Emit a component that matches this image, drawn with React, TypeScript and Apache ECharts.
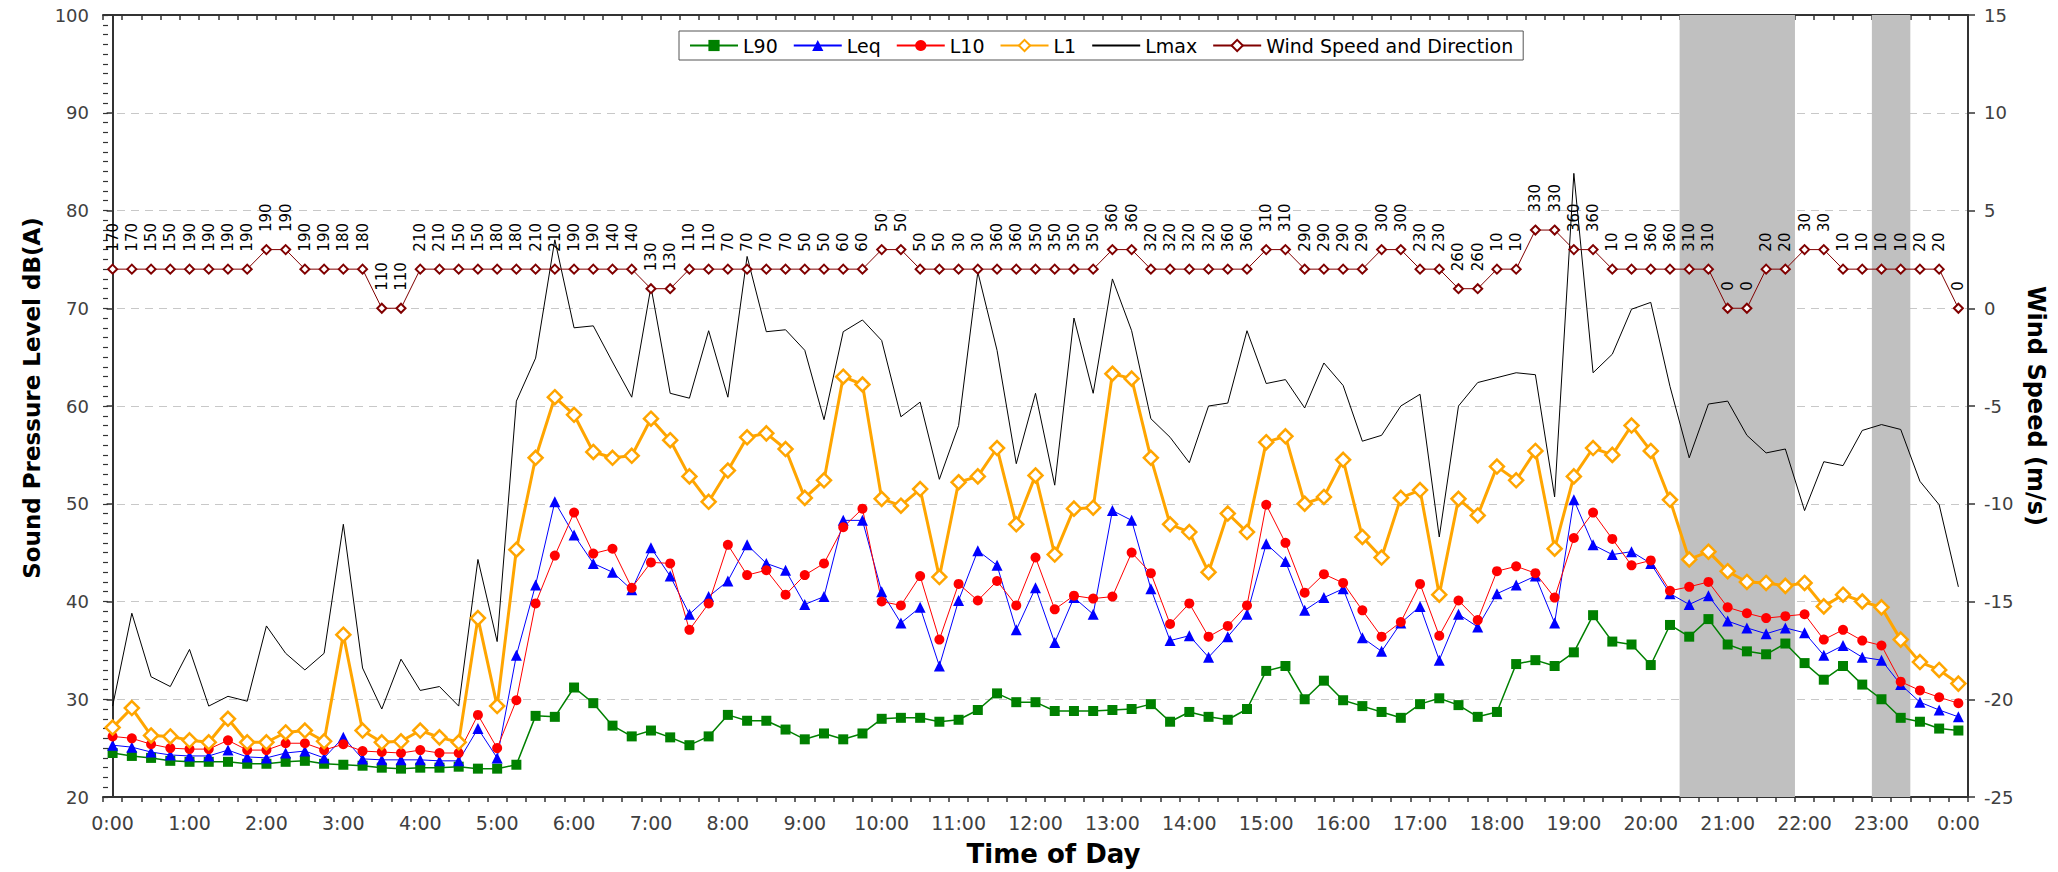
import React, { useEffect, useRef } from 'react';
import * as echarts from 'echarts';

// 15-minute categories from 0:00 to 24:00 (97 points)
const timeLabels: string[] = Array.from({ length: 97 }, (_, i) => `${Math.floor(i / 4)}:${String((i % 4) * 15).padStart(2, '0')}`);

const l90 = [
  24.5, 24.2, 24.0, 23.7, 23.6, 23.6, 23.6, 23.4, 23.4, 23.6, 23.7, 23.4, 23.3, 23.2, 23.0, 22.9,
  23.0, 23.0, 23.1, 22.9, 22.9, 23.3, 28.3, 28.2, 31.2, 29.6, 27.3, 26.2, 26.8, 26.1, 25.3, 26.2,
  28.4, 27.8, 27.8, 26.9, 25.9, 26.5, 25.9, 26.5, 28.0, 28.1, 28.1, 27.7, 27.9, 28.9, 30.6, 29.7,
  29.7, 28.8, 28.8, 28.8, 28.9, 29.0, 29.5, 27.7, 28.7, 28.2, 27.9, 29.0, 32.9, 33.4, 30.0, 31.9,
  29.9, 29.3, 28.7, 28.1, 29.5, 30.1, 29.4, 28.2, 28.7, 33.6, 34.0, 33.4, 34.8, 38.6, 35.9, 35.6,
  33.5, 37.6, 36.4, 38.2, 35.6, 34.9, 34.6, 35.7, 33.7, 32.0, 33.4, 31.5, 30.0, 28.1, 27.7, 27.0, 26.8,
];

const leq = [
  25.3, 25.1, 24.6, 24.3, 24.2, 24.2, 24.8, 24.1, 24.0, 24.5, 24.7, 24.0, 26.1, 23.9, 23.8, 23.8,
  23.8, 23.7, 23.7, 27.0, 24.0, 34.5, 41.7, 50.2, 46.8, 43.9, 43.0, 41.2, 45.5, 42.6, 38.7, 40.5,
  42.1, 45.8, 43.9, 43.2, 39.7, 40.5, 48.3, 48.3, 41.0, 37.8, 39.4, 33.4, 40.1, 45.2, 43.7, 37.1,
  41.4, 35.8, 40.4, 38.7, 49.3, 48.3, 41.3, 36.0, 36.5, 34.3, 36.4, 38.7, 45.9, 44.1, 39.1, 40.4,
  41.3, 36.3, 34.9, 37.8, 39.5, 34.0, 38.7, 37.4, 40.8, 41.7, 42.6, 37.8, 50.4, 45.8, 44.8, 45.1,
  43.9, 40.8, 39.7, 40.6, 38.0, 37.3, 36.7, 37.3, 36.8, 34.5, 35.5, 34.3, 34.0, 31.5, 29.7, 28.9, 28.2,
];

const l10 = [
  26.2, 26.0, 25.4, 25.0, 24.9, 24.9, 25.8, 24.8, 24.8, 25.5, 25.5, 24.8, 25.4, 24.7, 24.6, 24.5,
  24.8, 24.5, 24.5, 28.4, 25.0, 29.9, 39.8, 44.7, 49.1, 44.9, 45.4, 41.4, 44.0, 43.9, 37.1, 39.8,
  45.8, 42.7, 43.2, 40.7, 42.7, 43.9, 47.6, 49.5, 40.0, 39.6, 42.6, 36.1, 41.8, 40.1, 42.1, 39.6,
  44.5, 39.2, 40.6, 40.3, 40.5, 45.0, 42.9, 37.7, 39.8, 36.4, 37.5, 39.6, 49.9, 46.0, 40.9, 42.8,
  41.9, 39.1, 36.4, 37.9, 41.8, 36.5, 40.1, 38.1, 43.1, 43.6, 42.9, 40.4, 46.5, 49.1, 46.4, 43.7,
  44.2, 41.1, 41.5, 42.0, 39.4, 38.8, 38.3, 38.5, 38.7, 36.1, 37.1, 36.0, 35.5, 31.8, 30.9, 30.2, 29.6,
];

const l1 = [
  27.1, 29.1, 26.3, 26.2, 25.8, 25.6, 28.0, 25.6, 25.6, 26.6, 26.8, 25.7, 36.6, 26.8, 25.6, 25.7,
  26.8, 26.1, 25.6, 38.3, 29.3, 45.3, 54.7, 60.9, 59.1, 55.3, 54.7, 54.9, 58.7, 56.5, 52.8, 50.2,
  53.4, 56.8, 57.2, 55.6, 50.6, 52.4, 63.0, 62.2, 50.5, 49.8, 51.5, 42.5, 52.2, 52.8, 55.7, 47.9,
  52.9, 44.8, 49.5, 49.6, 63.3, 62.8, 54.7, 47.9, 47.1, 43.0, 49.0, 47.1, 56.3, 56.9, 50.0, 50.7,
  54.5, 46.6, 44.5, 50.6, 51.4, 40.7, 50.5, 48.8, 53.8, 52.4, 55.4, 45.4, 52.8, 55.7, 55.0, 58.0,
  55.4, 50.4, 44.3, 45.1, 43.1, 42.0, 41.9, 41.6, 41.9, 39.5, 40.7, 40.0, 39.4, 36.1, 33.8, 33.0, 31.6,
];

const lmax = [
  29.3, 38.8, 32.3, 31.3, 35.1, 29.3, 30.3, 29.8, 37.5, 34.7, 33.0, 34.7, 47.9, 33.2, 29.0, 34.1,
  30.9, 31.3, 29.3, 44.3, 35.9, 60.5, 64.9, 77.0, 68.0, 68.2, 64.5, 60.9, 72.2, 61.3, 60.8, 67.7,
  60.9, 75.3, 67.6, 67.8, 65.7, 58.6, 67.6, 68.8, 66.7, 58.9, 60.4, 52.5, 58.0, 73.7, 65.7, 54.1,
  61.3, 51.9, 69.0, 61.3, 73.0, 67.7, 58.7, 56.8, 54.2, 60.0, 60.3, 67.7, 62.3, 62.7, 59.8, 64.4,
  62.1, 56.4, 57.0, 60.0, 61.2, 46.6, 60.0, 62.4, 62.9, 63.4, 63.2, 50.7, 83.8, 63.4, 65.3, 69.9,
  70.6, 62.0, 54.7, 60.2, 60.5, 57.0, 55.2, 55.6, 49.3, 54.3, 53.9, 57.5, 58.1, 57.6, 52.3, 49.9, 41.5,
];

const windSpeed = [
  2, 2, 2, 2, 2, 2, 2, 2, 3, 3, 2, 2, 2, 2, 0, 0,
  2, 2, 2, 2, 2, 2, 2, 2, 2, 2, 2, 2, 1, 1, 2, 2,
  2, 2, 2, 2, 2, 2, 2, 2, 3, 3, 2, 2, 2, 2, 2, 2,
  2, 2, 2, 2, 3, 3, 2, 2, 2, 2, 2, 2, 3, 3, 2, 2,
  2, 2, 3, 3, 2, 2, 1, 1, 2, 2, 4, 4, 3, 3, 2, 2,
  2, 2, 2, 2, 0, 0, 2, 2, 3, 3, 2, 2, 2, 2, 2, 2, 0,
];

const windDir = [
  170, 170, 150, 150, 190, 190, 190, 190, 190, 190, 190, 190, 180, 180, 110, 110,
  210, 210, 150, 150, 180, 180, 210, 210, 190, 190, 140, 140, 130, 130, 110, 110,
  70, 70, 70, 70, 50, 50, 60, 60, 50, 50, 50, 50, 30, 30, 360, 360,
  350, 350, 350, 350, 360, 360, 320, 320, 320, 320, 360, 360, 310, 310, 290, 290,
  290, 290, 300, 300, 230, 230, 260, 260, 10, 10, 330, 330, 360, 360, 10, 10,
  360, 360, 310, 310, 0, 0, 20, 20, 30, 30, 10, 10, 10, 10, 20, 20, 0,
];

// shaded periods (first and last 15-minute category included)
const shadedPeriods: [string, string][] = [
  ['20:30', '21:45'],
  ['23:00', '23:15'],
];

const legendNames = ['L90', 'Leq', 'L10', 'L1', 'Lmax', 'Wind Speed and Direction'];

export default function App() {
  const ref = useRef<HTMLDivElement>(null);

  useEffect(() => {
    if (!ref.current) return;
    const chart = echarts.init(ref.current, null, { renderer: 'svg' });
    const font = 'DejaVu Sans';
    const axisLabelStyle = { fontFamily: font, fontSize: 18, color: '#404040' };
    const nameStyle = { fontFamily: font, fontSize: 24, fontWeight: 'bold' as const, color: '#000' };
    const axisLineStyle = { color: '#333', width: 2 };
    const areas = shadedPeriods.map(([a, b]) => [
      { xAxis: timeLabels.indexOf(a) - 0.5 },
      { xAxis: timeLabels.indexOf(b) + 0.5 },
    ]);

    const option: any = {
      animation: false,
      backgroundColor: '#fff',
      textStyle: { fontFamily: font },
      grid: { left: 103, right: 90, top: 15, bottom: 75, containLabel: false },
      legend: {
        data: legendNames.map((n) =>
          n === 'Lmax' ? { name: n, itemStyle: { opacity: 0 } } : { name: n }
        ),
        left: 679,
        top: 31,
        orient: 'horizontal',
        backgroundColor: '#fff',
        borderColor: '#555',
        borderWidth: 1,
        borderRadius: 0,
        padding: [5, 10],
        itemGap: 15,
        itemWidth: 48,
        itemHeight: 14,
        textStyle: { fontFamily: font, fontSize: 19, color: '#000' },
      },
      xAxis: [
        {
          type: 'category',
          data: timeLabels,
          boundaryGap: true,
          position: 'bottom',
          name: 'Time of Day',
          nameLocation: 'middle',
          nameGap: 44,
          nameTextStyle: { ...nameStyle, fontSize: 26, padding: [0, 0, 0, 36] },
          axisLine: { show: true, onZero: false, lineStyle: axisLineStyle },
          axisTick: { show: true, interval: 0, length: 5, lineStyle: { color: '#333', width: 1.5 } },
          axisLabel: {
            interval: 3,
            margin: 16,
            ...axisLabelStyle,
            fontSize: 19,
            formatter: (v: string) => (v === '24:00' ? '0:00' : v),
          },
          splitLine: { show: false },
        },
        {
          type: 'category',
          data: timeLabels,
          boundaryGap: true,
          position: 'top',
          axisLine: { show: true, onZero: false, lineStyle: axisLineStyle },
          axisTick: { show: true, inside: true, interval: 0, length: 5, lineStyle: { color: '#333', width: 1.5 } },
          axisLabel: { show: false },
          splitLine: { show: false },
        },
        { type: 'value', min: -0.5, max: 96.5, show: false, splitLine: { show: false } },
      ],
      yAxis: [
        {
          type: 'value',
          position: 'left',
          min: 20,
          max: 100,
          interval: 10,
          name: 'Sound Pressure Level dB(A)',
          nameLocation: 'middle',
          nameGap: 58,
          nameTextStyle: { ...nameStyle, fontSize: 23, padding: [0, 0, 0, 16] },
          axisLine: { show: true, lineStyle: axisLineStyle },
          axisTick: { show: true, length: 6, lineStyle: { color: '#333', width: 1.5 } },
          axisLabel: { margin: 14, ...axisLabelStyle },
          splitLine: { show: true, lineStyle: { type: [8, 6], color: '#c8c8c8', width: 1 } },
        },
        {
          type: 'value',
          position: 'right',
          min: -25,
          max: 15,
          interval: 5,
          name: 'Wind Speed (m/s)',
          nameLocation: 'middle',
          nameRotate: -90,
          nameGap: 50,
          nameTextStyle: nameStyle,
          axisLine: { show: true, lineStyle: axisLineStyle },
          axisTick: { show: true, length: 7, lineStyle: { color: '#333', width: 1.5 } },
          axisLabel: { margin: 16, ...axisLabelStyle },
          splitLine: { show: false },
        },
        {
          type: 'value',
          position: 'left',
          min: 20,
          max: 100,
          interval: 1,
          axisLine: { show: false },
          axisTick: { show: true, inside: true, length: 5, lineStyle: { color: '#333', width: 1.2 } },
          axisLabel: { show: false },
          splitLine: { show: false },
        },
      ],
      series: [
        {
          name: 'shade',
          type: 'line',
          xAxisIndex: 2,
          yAxisIndex: 0,
          data: [],
          silent: true,
          z: 1,
          markArea: { silent: true, itemStyle: { color: '#c0c0c0' }, data: areas },
        },
        {
          name: 'Lmax',
          type: 'line',
          data: lmax,
          symbol: 'none',
          lineStyle: { color: '#000', width: 1 },
          itemStyle: { color: '#000' },
          z: 3,
        },
        {
          name: 'L90',
          type: 'line',
          data: l90,
          symbol: 'rect',
          symbolSize: 10,
          showAllSymbol: true,
          lineStyle: { color: '#008000', width: 1.5 },
          itemStyle: { color: '#008000' },
          z: 4,
        },
        {
          name: 'Leq',
          type: 'line',
          data: leq,
          symbol: 'triangle',
          symbolSize: 11,
          showAllSymbol: true,
          lineStyle: { color: '#0000ff', width: 1 },
          itemStyle: { color: '#0000ff' },
          z: 4,
        },
        {
          name: 'L10',
          type: 'line',
          data: l10,
          symbol: 'circle',
          symbolSize: 10,
          showAllSymbol: true,
          lineStyle: { color: '#ff0000', width: 1 },
          itemStyle: { color: '#ff0000' },
          z: 4,
        },
        {
          name: 'L1',
          type: 'line',
          data: l1,
          symbol: 'diamond',
          symbolSize: 14,
          showAllSymbol: true,
          lineStyle: { color: '#ffa500', width: 3 },
          itemStyle: { color: '#fff', borderColor: '#ffa500', borderWidth: 2.5 },
          z: 4,
        },
        {
          name: 'Wind Speed and Direction',
          type: 'line',
          yAxisIndex: 1,
          data: windSpeed,
          symbol: 'diamond',
          symbolSize: 9,
          showAllSymbol: true,
          lineStyle: { color: '#800000', width: 1 },
          itemStyle: { color: '#fff', borderColor: '#800000', borderWidth: 2 },
          label: {
            show: true,
            position: 'top',
            rotate: 90,
            align: 'left',
            verticalAlign: 'middle',
            distance: 12,
            fontFamily: font,
            fontSize: 15,
            color: '#000',
            formatter: (p: any) => String(windDir[p.dataIndex]),
          },
          z: 5,
        },
      ],
    };

    chart.setOption(option);
    return () => {
      chart.dispose();
    };
  }, []);

  return (
    <div
      ref={ref}
      style={{ position: 'fixed', left: 0, top: 0, width: 2058, height: 872, background: '#fff' }}
    />
  );
}
